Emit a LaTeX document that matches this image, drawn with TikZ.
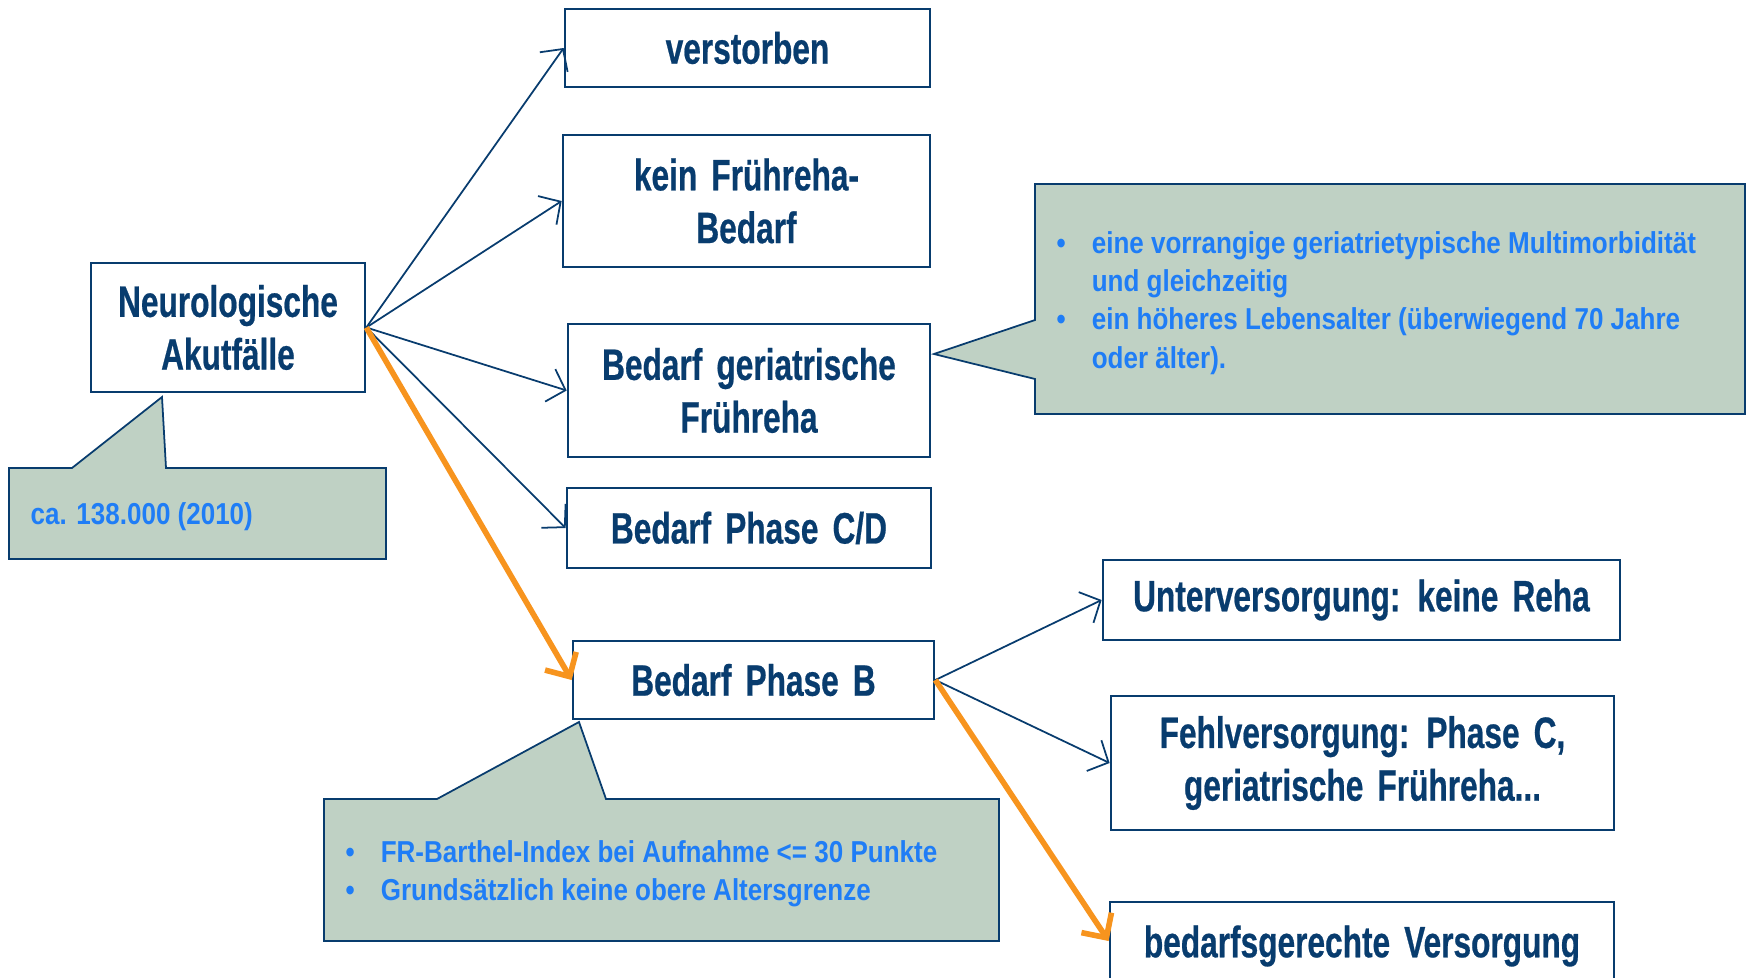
\documentclass[tikz,border=0pt]{standalone}
\usepackage{fontspec}
\usepackage{tikz}
\usetikzlibrary{arrows.meta}
\newfontfamily\boxfont[FakeStretch=0.72,WordSpace=1.6,FakeBold=0.5]{Liberation Sans}
\newfontfamily\notefont[FakeStretch=0.86]{Liberation Sans}
\definecolor{navy}{RGB}{8,60,110}
\definecolor{notefill}{RGB}{191,209,196}
\definecolor{noteblue}{RGB}{31,125,246}
\definecolor{pfeilorange}{RGB}{247,148,30}

\begin{document}
\begin{tikzpicture}[x=0.01cm, y=-0.01cm,
    kasten/.style={draw=navy, line width=0.7pt, fill=white, text=navy, align=center,
      font=\boxfont\bfseries\fontsize{12.5}{15}\selectfont, inner sep=0pt},
    notiz/.style={draw=navy, line width=0.5pt, fill=notefill},
    notiztext/.style={text=noteblue, anchor=west, inner sep=0pt,
      font=\notefont\bfseries\fontsize{8.6}{10.9}\selectfont},
    pfeil/.style={draw=navy, line width=0.5pt, -{Straight Barb[length=1.6mm,width=3.4mm]}},
    hauptpfeil/.style={draw=pfeilorange, line width=1.6pt, -{Straight Barb[length=1.8mm,width=3.6mm]}}]
    \useasboundingbox (0,0) rectangle (1747,978);

    % callouts
    \draw[notiz] (9,468) -- (72,468) -- (162,397) -- (166,468) -- (386,468) -- (386,559) -- (9,559) -- cycle;
    \draw[notiz] (1035,184) -- (1745,184) -- (1745,414) -- (1035,414) -- (1035,379) -- (934,354) -- (1035,320) -- cycle;
    \draw[notiz] (324,799) -- (437,799) -- (579,722) -- (606,799) -- (999,799) -- (999,941) -- (324,941) -- cycle;

    \node[notiztext] (anzahl) at (30,517) {ca. 138.000 (2010)};
    \node[notiztext] (gerinote) at (1056,303) {\begin{tabular}{@{}l@{\hspace{0.26cm}}l@{}}
      \textbullet & eine vorrangige geriatrietypische Multimorbidität\\
                  & und gleichzeitig\\
      \textbullet & ein höheres Lebensalter (überwiegend 70 Jahre\\
                  & oder älter).
    \end{tabular}};
    \node[notiztext] (bnote) at (345,874) {\begin{tabular}{@{}l@{\hspace{0.26cm}}l@{}}
      \textbullet & FR-Barthel-Index bei Aufnahme <= 30 Punkte\\
      \textbullet & Grundsätzlich keine obere Altersgrenze
    \end{tabular}};

    % boxes
    \node[kasten, minimum width=2.74cm, minimum height=1.29cm] (neuro) at (228,327.5) {Neurologische\\Akutfälle};
    \node[kasten, minimum width=3.65cm, minimum height=0.78cm] (tot) at (747.5,48) {verstorben};
    \node[kasten, minimum width=3.67cm, minimum height=1.32cm] (keinfr) at (746.5,201) {kein Frühreha-\\Bedarf};
    \node[kasten, minimum width=3.62cm, minimum height=1.33cm] (geri) at (749,390.5) {Bedarf geriatrische\\Frühreha};
    \node[kasten, minimum width=3.64cm, minimum height=0.80cm] (phasecd) at (749,528) {Bedarf Phase C/D};
    \node[kasten, minimum width=3.61cm, minimum height=0.78cm] (phaseb) at (753.5,680) {Bedarf Phase B};
    \node[kasten, minimum width=5.17cm, minimum height=0.80cm] (unter) at (1361.5,600) {Unterversorgung: keine Reha};
    \node[kasten, minimum width=5.03cm, minimum height=1.34cm] (fehl) at (1362.5,763) {Fehlversorgung: Phase C,\\geriatrische Frühreha...};
    \node[kasten, minimum width=5.04cm, minimum height=0.88cm] (gerecht) at (1362,946) {bedarfsgerechte Versorgung};

    % arrows
    \foreach \ziel in {tot,keinfr,geri,phasecd}{
      \draw[pfeil] (neuro.east) -- (\ziel.west);
    }
    \draw[hauptpfeil] (neuro.east) -- (phaseb.west);
    \foreach \ziel in {unter,fehl}{
      \draw[pfeil] (phaseb.east) -- (\ziel.west);
    }
    \draw[hauptpfeil] (phaseb.east) -- ([yshift=0.05cm]gerecht.west);
\end{tikzpicture}
\end{document}
